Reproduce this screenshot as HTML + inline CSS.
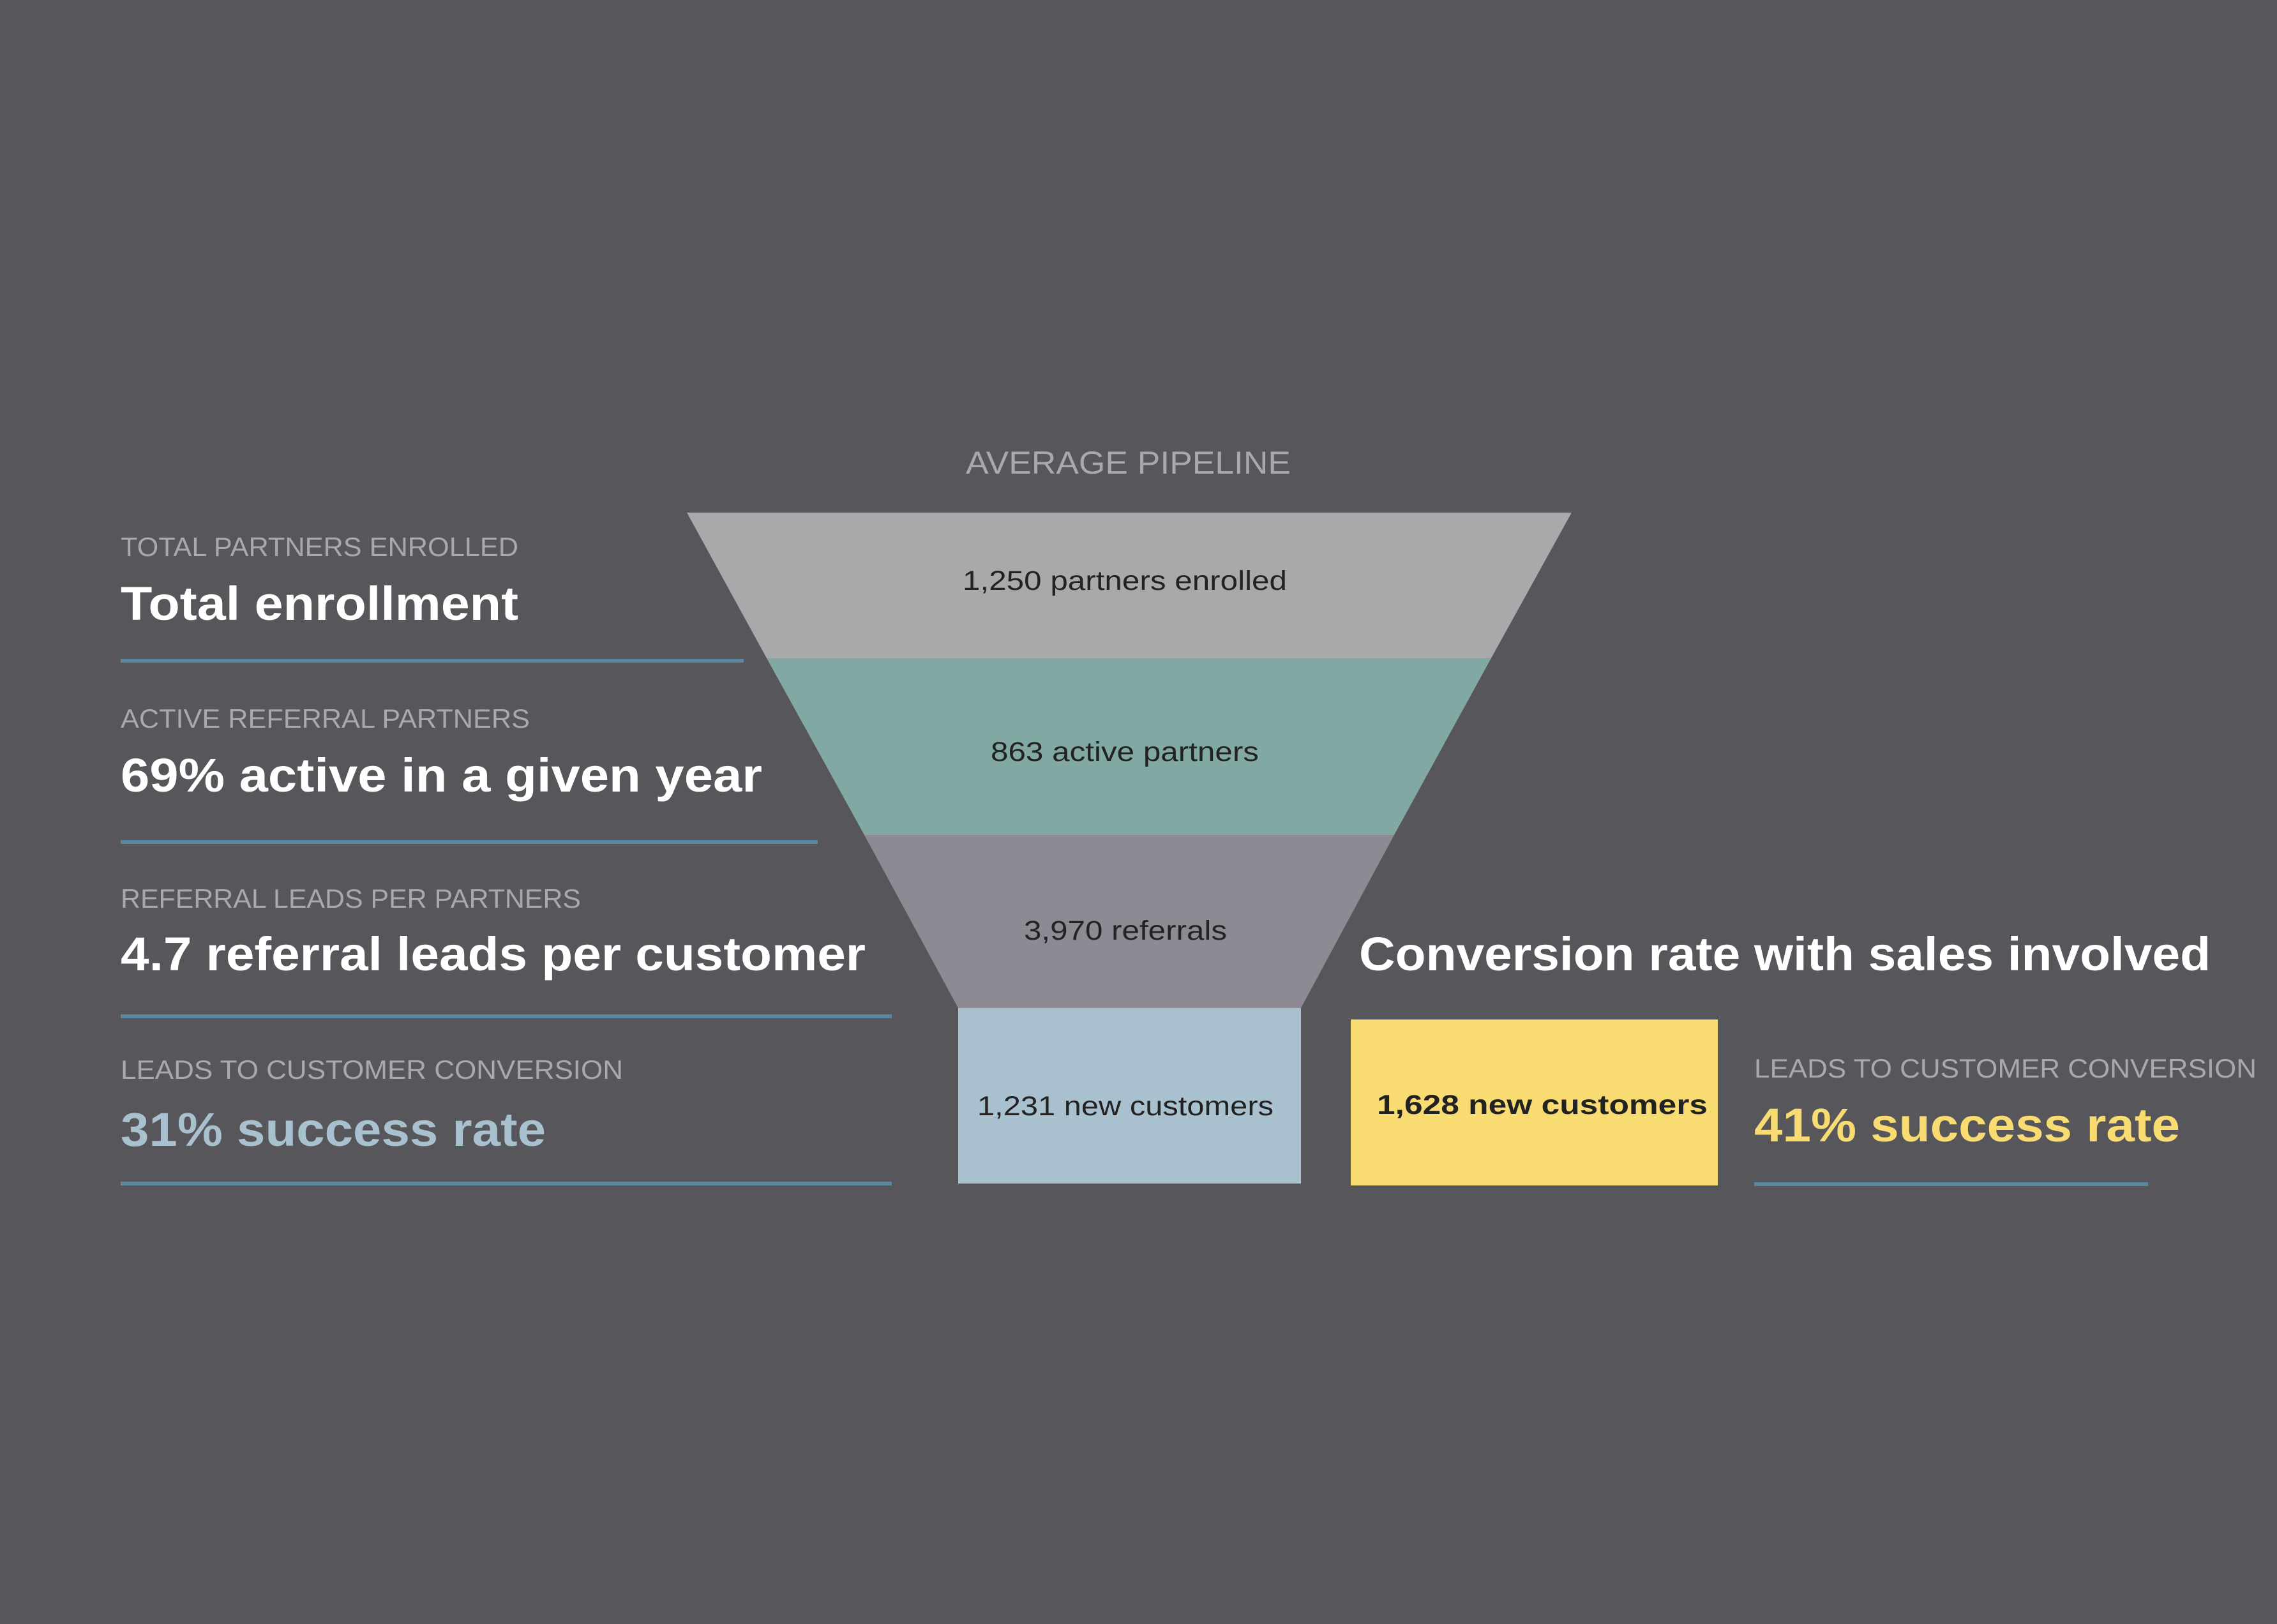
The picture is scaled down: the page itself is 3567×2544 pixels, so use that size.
<!DOCTYPE html>
<html><head><meta charset="utf-8"><style>
html,body{margin:0;padding:0;background:#57565b;}
svg{display:block;}
text{font-family:"Liberation Sans","DejaVu Sans",sans-serif;}
.lab{fill:#a9a9ab;font-size:42px;}
.big{fill:#ffffff;font-size:74px;font-weight:bold;}
.fl{fill:#222;font-size:43px;}
</style></head><body>
<svg width="3567" height="2544" viewBox="0 0 3567 2544" xmlns="http://www.w3.org/2000/svg">
<rect width="3567" height="2544" fill="#57565b"/>
<text x="1513" y="742" class="lab" font-size="50" textLength="509" lengthAdjust="spacingAndGlyphs" style="font-size:50px">AVERAGE PIPELINE</text>
<polygon points="1076,803 2462,803 2336,1031 1201,1031" fill="#a9a9ab"/>
<polygon points="1201,1031 2336,1031 2184,1308 1354,1308" fill="#82a8a4"/>
<polygon points="1354,1308 2184,1308 2038,1579 1501,1579" fill="#8d8a94"/>
<rect x="1501" y="1579" width="537" height="275" fill="#a9c0ce"/>
<rect x="2116" y="1597" width="575" height="260" fill="#f8dc72"/>
<text x="1508" y="924" class="fl" textLength="508" lengthAdjust="spacingAndGlyphs">1,250 partners enrolled</text>
<text x="1552" y="1192" class="fl" textLength="420" lengthAdjust="spacingAndGlyphs">863 active partners</text>
<text x="1604" y="1472" class="fl" textLength="318" lengthAdjust="spacingAndGlyphs">3,970 referrals</text>
<text x="1531" y="1747" class="fl" textLength="464" lengthAdjust="spacingAndGlyphs">1,231 new customers</text>
<text x="2157" y="1745" class="fl" font-weight="bold" style="font-weight:bold" textLength="518" lengthAdjust="spacingAndGlyphs">1,628 new customers</text>

<text x="189" y="871" class="lab" textLength="623" lengthAdjust="spacingAndGlyphs">TOTAL PARTNERS ENROLLED</text>
<text x="189" y="971" class="big" textLength="623" lengthAdjust="spacingAndGlyphs">Total enrollment</text>
<rect x="189" y="1032" width="976" height="6" fill="#5b87a2"/>
<text x="189" y="1140" class="lab" textLength="641" lengthAdjust="spacingAndGlyphs">ACTIVE REFERRAL PARTNERS</text>
<text x="189" y="1240" class="big" textLength="1005" lengthAdjust="spacingAndGlyphs">69% active in a given year</text>
<rect x="189" y="1316" width="1092" height="6" fill="#5b87a2"/>
<text x="189" y="1422" class="lab" textLength="721" lengthAdjust="spacingAndGlyphs">REFERRAL LEADS PER PARTNERS</text>
<text x="189" y="1520" class="big" textLength="1167" lengthAdjust="spacingAndGlyphs">4.7 referral leads per customer</text>
<rect x="189" y="1589" width="1208" height="6" fill="#5b87a2"/>
<text x="189" y="1690" class="lab" textLength="787" lengthAdjust="spacingAndGlyphs">LEADS TO CUSTOMER CONVERSION</text>
<text x="189" y="1795" class="big" style="fill:#a9c0cf" textLength="666" lengthAdjust="spacingAndGlyphs">31% success rate</text>
<rect x="189" y="1851" width="1208" height="6" fill="#5b87a2"/>

<text x="2129" y="1520" class="big" textLength="1334" lengthAdjust="spacingAndGlyphs">Conversion rate with sales involved</text>
<text x="2748" y="1688" class="lab" textLength="787" lengthAdjust="spacingAndGlyphs">LEADS TO CUSTOMER CONVERSION</text>
<text x="2748" y="1788" class="big" style="fill:#f8dc72" textLength="667" lengthAdjust="spacingAndGlyphs">41% success rate</text>
<rect x="2748" y="1852" width="617" height="6" fill="#5b87a2"/>
</svg>
</body></html>
